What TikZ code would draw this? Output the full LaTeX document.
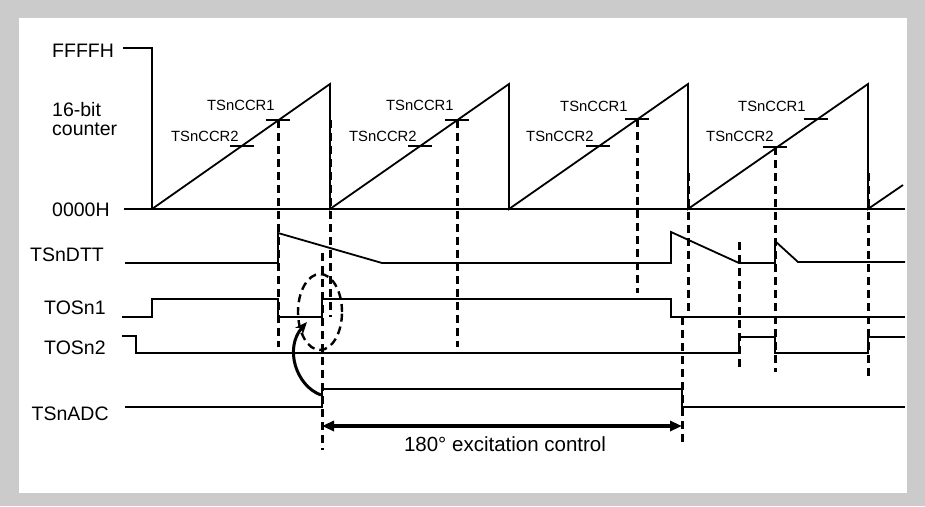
\documentclass[tikz,border=0pt]{standalone}
\usepackage{fontspec}
\setmainfont{Liberation Sans}
\usepackage{tikz}
\usetikzlibrary{arrows.meta}
\tikzset{>={Triangle[length=12pt,width=10pt]}}
\definecolor{rim}{HTML}{CBCBCB}
\tikzset{
  wave/.style={line width=1.8pt},
  sync/.style={line width=3pt,dash pattern=on 8pt off 5pt},
  big/.style={font=\fontsize{19.5}{22}\selectfont,anchor=base west,inner sep=0pt},
  small/.style={font=\fontsize{14.8}{17}\selectfont,anchor=base west,inner sep=0pt},
}
\newcommand{\panel}{%
  \fill[rim] (0,0) rectangle (925,506);
  \fill[white] (19,18) rectangle (907,493);
}
\newcommand{\axislabels}{%
  \node[big] (ffff) at (52,57.7) {FFFFH};
  \node[big] (bits) at (52,116) {16-bit};
  \node[big] (cnt) at (52,135.5) {counter};
  \node[big] (zero) at (52,216) {0000H};
  \node[big] (dtt) at (30,261.7) {TSnDTT};
  \node[big] (tos1) at (44,314) {TOSn1};
  \node[big] (tos2) at (44,354) {TOSn2};
  \node[big] (adc) at (31.5,420) {TSnADC};
}
\newcommand{\sawtooth}{%
  \draw[wave] (123,48) -- (152,48) -- (152,209);
  \draw[wave] (124,209) -- (905,209);
  \draw[wave] (152,209) -- (330,84) -- (330,209) -- (509,84) -- (509,209)
    -- (688,84) -- (688,209) -- (868,84) -- (868,209) -- (903,185);
}
% compare marks on the ramps
\newcommand{\cmptick}[2]{\draw[wave] ({#1-12},#2) -- ({#1+12},#2);}
\newcommand{\cmpmarks}{%
  \cmptick{278}{120}\cmptick{457}{120}\cmptick{637}{119}\cmptick{816}{119}
  \cmptick{242}{146}\cmptick{420}{146}\cmptick{598}{146}\cmptick{775}{147}
  \node[small] (ccra) at (207,110) {TSnCCR1};
  \node[small] (ccrb) at (386,110) {TSnCCR1};
  \node[small] (ccrc) at (560,111) {TSnCCR1};
  \node[small] (ccrd) at (738,111) {TSnCCR1};
  \node[small] (ccre) at (171,141) {TSnCCR2};
  \node[small] (ccrf) at (349,141) {TSnCCR2};
  \node[small] (ccrg) at (526,141) {TSnCCR2};
  \node[small] (ccrh) at (706,141) {TSnCCR2};
}
\newcommand{\syncs}{%
  \draw[sync] (278,120) -- (278,347);
  \draw[sync] (330,120) -- (330,317);
  \draw[sync] (322,253) -- (322,450);
  \draw[sync] (457,120) -- (457,347);
  \draw[sync] (637,119) -- (637,293);
  \draw[sync] (688,173) -- (688,317);
  \draw[sync] (682,317) -- (682,443);
  \draw[sync] (739,242) -- (739,368);
  \draw[sync] (775,147) -- (775,372);
  \draw[sync] (868,173) -- (868,377);
}
\newcommand{\waves}{%
  \draw[wave] (125,263) -- (278,263) -- (278,233) -- (382,263) -- (671,263)
    -- (671,232) -- (739,263) -- (775,263) -- (775,241) -- (798,262) -- (905,262);
  \draw[wave] (122,317) -- (152,317) -- (152,299) -- (278,299) -- (278,317)
    -- (322,317) -- (322,299) -- (671,299) -- (671,317) -- (905,317);
  \draw[wave] (122,336) -- (136,336) -- (136,353) -- (739,353) -- (739,337)
    -- (775,337) -- (775,353) -- (868,353) -- (868,337) -- (905,337);
  \draw[wave] (125,407) -- (322,407) -- (322,389) -- (682,389) -- (682,407)
    -- (905,407);
}

\begin{document}
\begin{tikzpicture}[x=1pt,y=-1pt]
\useasboundingbox (0,0) rectangle (925,506);
\panel \axislabels \sawtooth \cmpmarks \waves \syncs
\draw[line width=2.4pt,dash pattern=on 8pt off 5pt] (320,312) ellipse [x radius=22pt,y radius=38pt];
\coordinate (kick) at (321,395);
\coordinate (tip) at (307,322);
\draw[line width=3pt,-{Stealth[length=12pt,width=10pt]}] (kick) .. controls (296,386) and (284,348) .. (tip);
\coordinate (exca) at (322,426);
\coordinate (excb) at (682,426);
\draw[line width=3.2pt,<->] (exca) -- (excb);
\node[font=\fontsize{20.5}{24}\selectfont,anchor=base,inner sep=0pt] (exc) at (505,451) {180° excitation control};
\end{tikzpicture}
\end{document}
